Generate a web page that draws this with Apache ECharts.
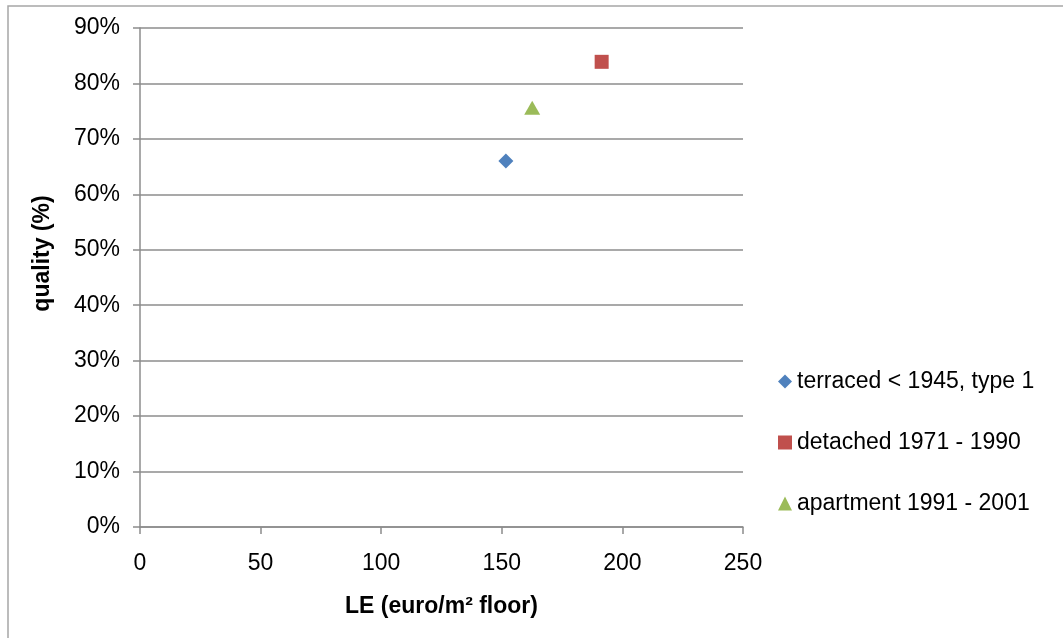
<!DOCTYPE html>
<html>
<head>
<meta charset="utf-8">
<script src="https://cdn.jsdelivr.net/npm/echarts@6/dist/echarts.min.js"></script>
<style>
  html, body { margin: 0; padding: 0; background: #fff; }
  #chart { width: 1063px; height: 638px; }
</style>
</head>
<body>
<div id="chart"></div>
<script>
// Life-extension cost versus quality, one point per dwelling type
const seriesNames = ['terraced < 1945, type 1', 'detached 1971 - 1990', 'apartment 1991 - 2001'];
const leValues = [151.7, 191.4, 162.6];      // euro/m² floor
const qualityValues = [66.0, 83.9, 75.6];    // %
const symbols = ['diamond', 'rect', 'triangle'];
const symbolSizes = [[15, 15], [14, 14], [16, 14]];
const colors = ['#4F81BD', '#C0504D', '#9BBB59'];

const font = '"Liberation Sans", Arial, sans-serif';
const chart = echarts.init(document.getElementById('chart'));

const series = seriesNames.map((name, i) => ({
  name: name,
  type: 'scatter',
  symbol: symbols[i],
  symbolSize: symbolSizes[i],
  itemStyle: { color: colors[i], opacity: 1 },
  data: [[leValues[i], qualityValues[i]]]
}));

chart.setOption({
  animation: false,
  backgroundColor: '#fff',
  textStyle: { fontFamily: font },
  grid: { left: 140, right: 320, top: 28, bottom: 111 },
  graphic: [{
    type: 'rect',
    shape: { x: 8, y: 6, width: 1200, height: 800 },
    style: { fill: 'none', stroke: '#a6a6a6', lineWidth: 1.5 },
    silent: true
  }],
  legend: {
    orient: 'vertical',
    left: 773,
    top: 365,
    itemGap: 38,
    itemWidth: 14,
    itemHeight: 14,
    data: seriesNames.map((n, i) => ({ name: n, icon: symbols[i], itemStyle: { color: colors[i], opacity: 1 } })),
    textStyle: { fontFamily: font, fontSize: 23, color: '#000' }
  },
  xAxis: {
    type: 'value',
    min: 0, max: 250, interval: 50,
    name: 'LE (euro/m² floor)',
    nameLocation: 'middle',
    nameGap: 68,
    nameTextStyle: { fontFamily: font, fontSize: 23, fontWeight: 'bold', color: '#000' },
    axisLine: { show: true, lineStyle: { color: '#8c8c8c', width: 1.5 } },
    axisTick: { show: true, inside: false, length: 7, lineStyle: { color: '#8c8c8c', width: 1.5 } },
    axisLabel: { fontFamily: font, fontSize: 23, color: '#000', margin: 25 },
    splitLine: { show: false }
  },
  yAxis: {
    type: 'value',
    min: 0, max: 90, interval: 10,
    name: 'quality (%)',
    nameLocation: 'middle',
    nameGap: 86,
    nameRotate: 90,
    nameTextStyle: { fontFamily: font, fontSize: 23, fontWeight: 'bold', color: '#000', padding: [0, 0, 0, 48] },
    axisLine: { show: true, lineStyle: { color: '#8c8c8c', width: 1.5 } },
    axisTick: { show: true, inside: false, length: 7, lineStyle: { color: '#8c8c8c', width: 1.5 } },
    axisLabel: { fontFamily: font, fontSize: 23, color: '#000', margin: 20, formatter: '{value}%' },
    splitLine: { show: true, lineStyle: { color: '#8c8c8c', width: 1.5 } }
  },
  series: series
});
</script>
</body>
</html>
